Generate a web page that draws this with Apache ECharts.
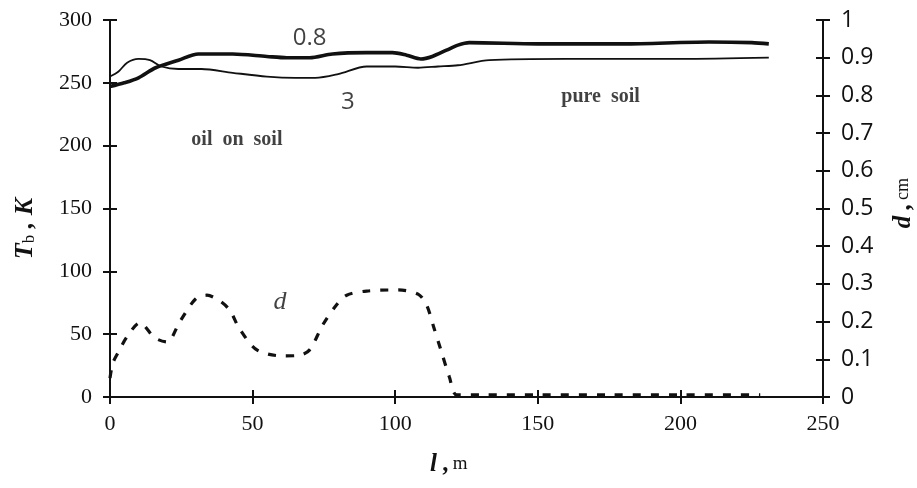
<!DOCTYPE html>
<html>
<head>
<meta charset="utf-8">
<script src="https://cdn.jsdelivr.net/npm/echarts@6/dist/echarts.min.js"></script>
<style>
  html, body { margin: 0; padding: 0; background: #fff; }
  #chart { width: 917px; height: 488px; }
</style>
</head>
<body>
<div id="chart"></div>
<script>
  // distance along the track, m
  var xTicks = [0, 50, 100, 150, 200, 250]

  // Tb curve marked "0.8" (thick)
  var thickX = [0, 5, 10, 16, 24, 31, 43, 55, 62, 70, 78, 90, 99, 104, 109, 113, 118, 122, 126, 150, 180, 210, 225, 231]
  var thickY = [247, 250, 254, 262, 268, 273, 273, 271, 270, 270, 273, 274, 274, 272, 269, 271, 276, 280, 282, 281, 281, 282.5, 282, 281]

  // Tb curve marked "3" (thin)
  var thinX = [0, 3, 6, 10, 14, 18, 24, 32, 43, 55, 65, 72, 80, 90, 100, 108, 115, 122, 133, 160, 200, 231]
  var thinY = [255, 259, 266, 269, 268, 263, 261, 261, 258, 255, 254, 254, 257, 263, 263, 262, 263, 264, 268, 269, 269, 270]

  // oil film thickness d, cm (dashed, right axis)
  var dX = [0, 1, 3, 6, 10.5, 15.7, 20, 24.5, 30, 34, 38.5, 42, 45.5, 51.5, 60.5, 66, 70, 74.5, 79.4, 83, 90, 101, 108, 111, 113.6, 116, 119, 121.5, 130, 150, 175, 200, 228]
  var dY = [0.05, 0.09, 0.12, 0.16, 0.197, 0.157, 0.146, 0.2, 0.26, 0.27, 0.255, 0.23, 0.18, 0.125, 0.109, 0.11, 0.125, 0.19, 0.244, 0.27, 0.281, 0.284, 0.273, 0.244, 0.183, 0.125, 0.053, 0.006, 0.006, 0.006, 0.006, 0.006, 0.006]

  // text notes, placed in data units (x in m, y in K)
  var noteText = ['0.8', '3', 'oil  on  soil', 'pure  soil', 'd']
  var noteX = [70, 83.4, 44.5, 172, 59.6]
  var noteY = [285.7, 234.7, 204.5, 238.7, 75.6]

  var serif = '"Liberation Serif", "DejaVu Serif", serif'
  var sans = '"Open Sans", "Liberation Sans", sans-serif'
  var ink = '#111'

  function pairs(xs, ys) {
    return xs.map(function (x, i) { return [x, ys[i]] })
  }

  // label look for each note
  var noteStyle = [
    { fontFamily: sans, fontSize: 24 },
    { fontFamily: sans, fontSize: 24 },
    { fontFamily: serif, fontSize: 20, fontWeight: 'bold' },
    { fontFamily: serif, fontSize: 20, fontWeight: 'bold' },
    { fontFamily: serif, fontSize: 26, fontStyle: 'italic' }
  ]
  var notes = noteText.map(function (t, i) {
    return {
      value: [noteX[i], noteY[i], t],
      label: Object.assign({ show: true, position: 'inside', color: ink, formatter: t }, noteStyle[i])
    }
  })

  var chart = echarts.init(document.getElementById('chart'), null, { renderer: 'canvas' })

  var lineAx = { show: true, onZero: false, lineStyle: { color: ink, width: 2 } }
  var noLine = { show: false, onZero: false }
  var tickOut = { show: true, length: 7, lineStyle: { color: ink, width: 2 } }
  var tickIn = { show: true, inside: true, length: 7, lineStyle: { color: ink, width: 2 } }

  var option = {
    backgroundColor: '#fff',
    animation: false,
    grid: { left: 110, right: 94, top: 20, bottom: 91, outerBoundsMode: 'none' },
    xAxis: [{
      type: 'value', position: 'bottom', min: 0, max: 250, interval: 50,
      axisLine: lineAx, axisTick: tickOut, splitLine: { show: false },
      axisLabel: { color: ink, fontFamily: serif, fontSize: 22, margin: 16 }
    }, {
      type: 'value', position: 'bottom', min: 0, max: 250, interval: 50,
      axisLine: noLine, axisTick: tickIn, splitLine: { show: false },
      axisLabel: { show: false }
    }],
    yAxis: [{
      type: 'value', position: 'left', min: 0, max: 300, interval: 50,
      axisLine: lineAx, axisTick: tickOut, splitLine: { show: false },
      axisLabel: { color: ink, fontFamily: serif, fontSize: 22, margin: 18 }
    }, {
      type: 'value', position: 'right', min: 0, max: 1, interval: 0.1,
      axisLine: lineAx, axisTick: tickOut, splitLine: { show: false },
      axisLabel: {
        color: ink, fontFamily: sans, fontSize: 23, margin: 18,
        formatter: function (v) { return (v === 0 || v === 1) ? String(v) : v.toFixed(1) }
      }
    }, {
      type: 'value', position: 'left', min: 0, max: 300, interval: 50,
      axisLine: noLine, axisTick: tickIn, splitLine: { show: false },
      axisLabel: { show: false }
    }, {
      type: 'value', position: 'right', min: 0, max: 1, interval: 0.1,
      axisLine: noLine, axisTick: tickIn, splitLine: { show: false },
      axisLabel: { show: false }
    }],
    graphic: [{
      // left axis title  Tb , K
      type: 'text', left: 12, top: 198, rotation: Math.PI / 2,
      style: {
        text: '{t|T}{s|b}{t| , K}',
        rich: {
          t: { fontFamily: serif, fontSize: 26, fontWeight: 'bold', fontStyle: 'italic', fill: ink },
          s: { fontFamily: serif, fontSize: 17, fill: ink, verticalAlign: 'bottom', padding: [10, 0, 0, 0] }
        }
      }
    }, {
      // right axis title  d , cm
      type: 'text', left: 891, top: 178, rotation: Math.PI / 2,
      style: {
        text: '{t|d ,} {c|cm}',
        rich: {
          t: { fontFamily: serif, fontSize: 25, fontWeight: 'bold', fontStyle: 'italic', fill: ink },
          c: { fontFamily: serif, fontSize: 18, fill: ink }
        }
      }
    }, {
      // x axis title  l , m
      type: 'text', left: 430, top: 452,
      style: {
        text: '{t|l ,} {c|m}',
        rich: {
          t: { fontFamily: serif, fontSize: 25, fontWeight: 'bold', fontStyle: 'italic', fill: ink },
          c: { fontFamily: serif, fontSize: 19, fill: ink }
        }
      }
    }],
    series: [{
      name: '0.8', type: 'line', xAxisIndex: 0, yAxisIndex: 0,
      data: pairs(thickX, thickY), smooth: 0.3, symbol: 'none',
      lineStyle: { color: ink, width: 3.6 }
    }, {
      name: '3', type: 'line', xAxisIndex: 0, yAxisIndex: 0,
      data: pairs(thinX, thinY), smooth: 0.3, symbol: 'none',
      lineStyle: { color: ink, width: 1.8 }
    }, {
      name: 'd', type: 'line', xAxisIndex: 0, yAxisIndex: 1,
      data: pairs(dX, dY), smooth: 0.3, symbol: 'none',
      lineStyle: { color: ink, width: 3.2, type: [8, 10] }
    }, {
      name: 'notes', type: 'scatter', xAxisIndex: 0, yAxisIndex: 0,
      symbolSize: 1, itemStyle: { color: 'rgba(0,0,0,0)' },
      data: notes, silent: true
    }]
  }

  chart.setOption(option, true)
  window.onresize = chart.resize
</script>
</body>
</html>
